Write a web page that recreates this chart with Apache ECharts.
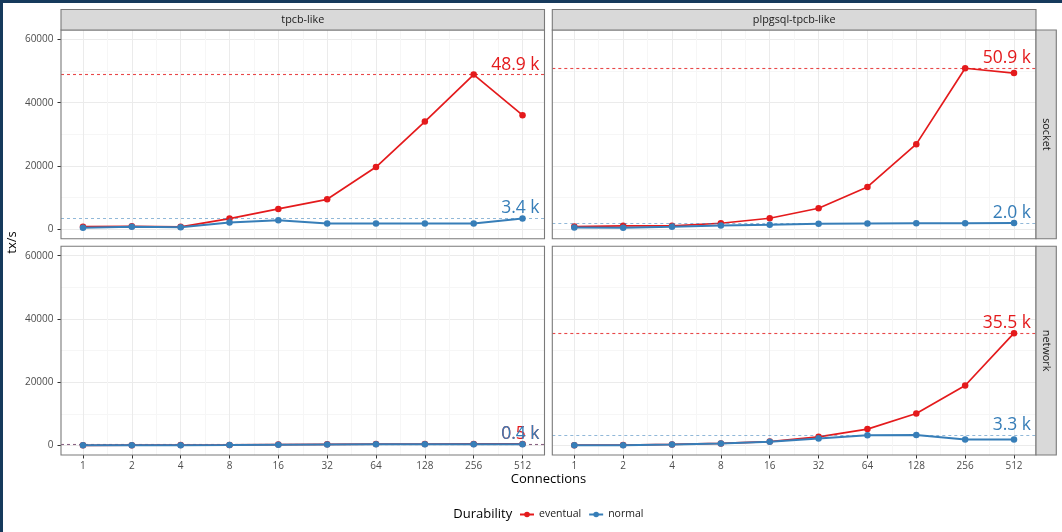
<!DOCTYPE html>
<html><head><meta charset="utf-8">
<script src="https://cdn.jsdelivr.net/npm/echarts@6/dist/echarts.min.js"></script>
<style>html,body{margin:0;padding:0;background:#fff}#c{width:1062px;height:532px}</style>
</head><body><div id="c"></div>
<script>
// ---- data ----
const connections = [1, 2, 4, 8, 16, 32, 64, 128, 256, 512];
const benchmarks = ['tpcb-like', 'plpgsql-tpcb-like'];
const transports = ['socket', 'network'];
const durability = ['eventual', 'normal'];
const yTicks = [0, 20000, 40000, 60000];

const tpcbSocketEventual    = [800, 900, 750, 3370, 6430, 9450, 19660, 34030, 48900, 36050];
const tpcbSocketNormal      = [500, 800, 650, 2100, 2840, 1800, 1800, 1800, 1800, 3400];
const plpgsqlSocketEventual = [850, 1070, 1070, 1890, 3470, 6620, 13360, 26900, 50900, 49380];
const plpgsqlSocketNormal   = [535, 440, 750, 1170, 1380, 1700, 1800, 1890, 1900, 2000];
const tpcbNetworkEventual   = [60, 90, 130, 200, 280, 380, 440, 470, 490, 500];
const tpcbNetworkNormal     = [50, 80, 120, 180, 250, 330, 370, 390, 380, 400];
const plpgsqlNetworkEventual= [100, 130, 330, 650, 1250, 2750, 5180, 10120, 18960, 35500];
const plpgsqlNetworkNormal  = [100, 120, 320, 630, 1170, 2210, 3250, 3300, 1900, 1900];

const panels = [
  {col: 0, row: 0, ev: tpcbSocketEventual, no: tpcbSocketNormal},
  {col: 1, row: 0, ev: plpgsqlSocketEventual, no: plpgsqlSocketNormal},
  {col: 0, row: 1, ev: tpcbNetworkEventual, no: tpcbNetworkNormal},
  {col: 1, row: 1, ev: plpgsqlNetworkEventual, no: plpgsqlNetworkNormal}
];

// ---- style / layout ----
const FONT = '"Open Sans", "Noto Sans", sans-serif';
const RED = '#e41a1c', BLUE = '#377eb8';
const RED_DASH = 'rgba(228,26,28,0.8)', BLUE_DASH = 'rgba(55,126,184,0.55)';
const COLS = [[61, 544.5], [552.3, 1036]];
const ROWS = [[30, 238.7], [246.2, 455]];
const STRIP_TOP = 9.5, STRIP_RIGHT = 1056.3;
const BORDER = '#7a7a7a';

const grids = [], xAxes = [], yAxes = [], series = [], graphics = [];
const fmtK = v => (v / 1000).toFixed(1) + ' k';

function mkSeries(name, vals, color, dashColor, width, gi, z) {
  const maxV = Math.max.apply(null, vals);
  return {
    name: name, type: 'line', xAxisIndex: gi, yAxisIndex: gi, z: z,
    data: connections.map((c, i) => [Math.log2(c), vals[i]]),
    color: color, symbol: 'circle', symbolSize: 6.5, clip: false,
    lineStyle: {width: width, color: color}, itemStyle: {color: color},
    emphasis: {disabled: true}, silent: true,
    markLine: {
      silent: true, symbol: ['none', 'none'], animation: false, z: z,
      data: [{yAxis: maxV}],
      lineStyle: {type: [3, 3], width: 1.1, color: dashColor},
      label: {show: true, position: 'insideEndTop', formatter: () => fmtK(maxV),
        color: color, fontSize: 17.5, fontFamily: FONT, distance: [5, 1]},
      emphasis: {disabled: true}
    }
  };
}

panels.forEach((p, i) => {
  const [x0, x1] = COLS[p.col], [y0, y1] = ROWS[p.row];
  const w = x1 - x0, h = y1 - y0;
  const ix = w * 0.45 / 9.9, iy = h * 0.05 / 1.1;
  const gH = 2 * i, gV = 2 * i + 1;
  // data grid: full width, inner y range
  grids.push({left: x0, top: y0 + iy, width: w, height: h - 2 * iy});
  xAxes.push({gridIndex: gH, type: 'value', min: -0.45, max: 9.45, show: false,
    axisLine: {onZero: false}});
  yAxes.push({gridIndex: gH, type: 'value', min: yTicks[0], max: yTicks[yTicks.length - 1],
    interval: yTicks[1] - yTicks[0], position: 'left',
    axisLine: {show: false, onZero: false},
    axisTick: {show: p.col === 0, length: 3.5, lineStyle: {color: '#333', width: 1}},
    axisLabel: {show: p.col === 0, color: '#4d4d4d', fontSize: 10, fontFamily: FONT, margin: 7.5,
      formatter: v => String(v)},
    splitLine: {show: true, lineStyle: {color: '#ebebeb', width: 1}},
    minorTick: {show: false, splitNumber: 2},
    minorSplitLine: {show: true, lineStyle: {color: '#f6f6f6', width: 1}}
  });
  // vertical grid lines grid: inner x range, full height
  grids.push({left: x0 + ix, top: y0, width: w - 2 * ix, height: h});
  xAxes.push({gridIndex: gV, type: 'value', min: 0, max: connections.length - 1, interval: 1,
    position: 'bottom',
    axisLine: {show: false, onZero: false},
    axisTick: {show: p.row === 1, length: 3.5, lineStyle: {color: '#333', width: 1}},
    axisLabel: {show: p.row === 1, color: '#4d4d4d', fontSize: 10, fontFamily: FONT, margin: 6.5,
      formatter: v => String(connections[Math.round(v)])},
    splitLine: {show: true, lineStyle: {color: '#ebebeb', width: 1}},
    minorTick: {show: false, splitNumber: 2},
    minorSplitLine: {show: true, lineStyle: {color: '#f6f6f6', width: 1}}
  });
  yAxes.push({gridIndex: gV, type: 'value', min: 0, max: 1, show: false, axisLine: {onZero: false}});

  series.push(mkSeries(durability[0], p.ev, RED, RED_DASH, 1.7, gH, 2));
  series.push(mkSeries(durability[1], p.no, BLUE, BLUE_DASH, 2, gH, 3));

  // panel frame
  graphics.push({type: 'rect', z: 50, shape: {x: x0, y: y0, width: w, height: h},
    style: {fill: 'none', stroke: BORDER, lineWidth: 1.1}});
});

// column strips (top)
COLS.forEach((c, i) => {
  graphics.push({type: 'rect', z: 50, shape: {x: c[0], y: STRIP_TOP, width: c[1] - c[0], height: ROWS[0][0] - STRIP_TOP},
    style: {fill: '#d9d9d9', stroke: BORDER, lineWidth: 1.1}});
  graphics.push({type: 'text', z: 51, x: (c[0] + c[1]) / 2, y: (STRIP_TOP + ROWS[0][0]) / 2,
    style: {text: benchmarks[i], fill: '#1a1a1a', font: '10.8px ' + FONT, align: 'center', verticalAlign: 'middle', textAlign: 'center', textVerticalAlign: 'middle'}});
});
// row strips (right)
ROWS.forEach((r, i) => {
  const x0 = COLS[1][1];
  graphics.push({type: 'rect', z: 50, shape: {x: x0, y: r[0], width: STRIP_RIGHT - x0, height: r[1] - r[0]},
    style: {fill: '#d9d9d9', stroke: BORDER, lineWidth: 1.1}});
  graphics.push({type: 'text', z: 51, x: (x0 + STRIP_RIGHT) / 2, y: (r[0] + r[1]) / 2, rotation: -Math.PI / 2,
    style: {text: transports[i], fill: '#1a1a1a', font: '10.8px ' + FONT, align: 'center', verticalAlign: 'middle', textAlign: 'center', textVerticalAlign: 'middle'}});
});
// axis titles
graphics.push({type: 'text', z: 51, x: (COLS[0][0] + COLS[1][1]) / 2, y: 479,
  style: {text: 'Connections', fill: '#000', font: '13px ' + FONT, align: 'center', verticalAlign: 'middle', textAlign: 'center', textVerticalAlign: 'middle'}});
graphics.push({type: 'text', z: 51, x: 12.5, y: (ROWS[0][0] + ROWS[1][1]) / 2, rotation: Math.PI / 2,
  style: {text: 'tx/s', fill: '#000', font: '13px ' + FONT, align: 'center', verticalAlign: 'middle', textAlign: 'center', textVerticalAlign: 'middle'}});
// legend title
graphics.push({type: 'text', z: 51, x: 453.3, y: 514,
  style: {text: 'Durability', fill: '#000', font: '13px ' + FONT, align: 'left', verticalAlign: 'middle', textAlign: 'left', textVerticalAlign: 'middle'}});
// navy frame edges
graphics.push({type: 'rect', z: 100, shape: {x: 0, y: 0, width: 3, height: 532}, style: {fill: '#163a5c'}});
graphics.push({type: 'rect', z: 100, shape: {x: 0, y: 0, width: 1062, height: 3}, style: {fill: '#163a5c'}});

const chart = echarts.init(document.getElementById('c'), null, {renderer: 'canvas'});
chart.setOption({
  animation: false,
  backgroundColor: '#fff',
  grid: grids, xAxis: xAxes, yAxis: yAxes, series: series,
  legend: {
    data: durability, left: 519, top: 509, padding: 0, itemWidth: 14, itemHeight: 7, itemGap: 7,
    textStyle: {fontSize: 10.5, fontFamily: FONT, color: '#1a1a1a'},
    selectedMode: false
  },
  graphic: graphics
});
</script>
</body></html>
